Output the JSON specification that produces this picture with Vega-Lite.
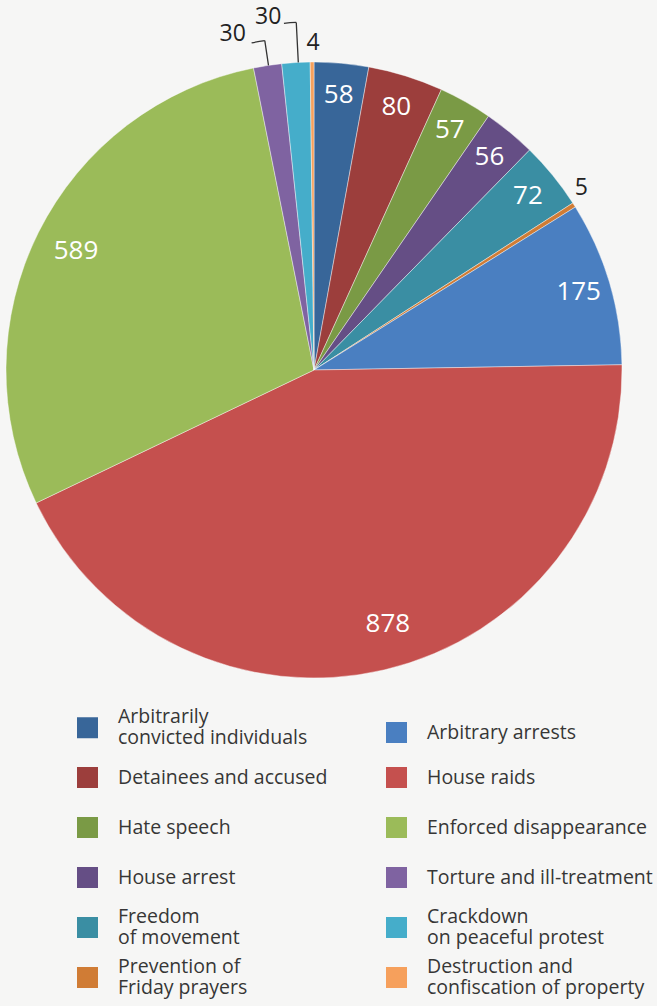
{
  "$schema": "https://vega.github.io/schema/vega-lite/v6.json",
  "width": 628,
  "height": 740,
  "padding": {"left": 0, "top": 0, "right": 29, "bottom": 266},
  "autosize": {"type": "none"},
  "background": "#f6f6f5",
  "config": {"view": {"stroke": null}, "font": "Open Sans"},
  "data": {
    "values": [
      {"category": "Arbitrarily\nconvicted individuals", "count": 58, "slice": 1},
      {"category": "Detainees and accused", "count": 80, "slice": 2},
      {"category": "Hate speech", "count": 57, "slice": 3},
      {"category": "House arrest", "count": 56, "slice": 4},
      {"category": "Freedom\nof movement", "count": 72, "slice": 5},
      {"category": "Prevention of\nFriday prayers", "count": 5, "slice": 6},
      {"category": "Arbitrary arrests", "count": 175, "slice": 7},
      {"category": "House raids", "count": 878, "slice": 8},
      {"category": "Enforced disappearance", "count": 589, "slice": 9},
      {"category": "Torture and ill-treatment", "count": 30, "slice": 10},
      {"category": "Crackdown\non peaceful protest", "count": 30, "slice": 11},
      {"category": " Destruction and\nconfiscation of property", "count": 4, "slice": 12}
    ]
  },
  "layer": [
    {
      "encoding": {
        "theta": {"field": "count", "type": "quantitative", "stack": true},
        "order": {"field": "slice", "type": "quantitative"}
      },
      "layer": [
        {
          "mark": {"type": "arc", "outerRadius": 308, "stroke": "#ffffff", "strokeWidth": 0.6, "strokeOpacity": 0.7},
          "encoding": {
            "color": {
              "field": "category",
              "type": "nominal",
              "scale": {
                "domain": [
                  "Arbitrarily\nconvicted individuals", "Arbitrary arrests",
                  "Detainees and accused", "House raids",
                  "Hate speech", "Enforced disappearance",
                  "House arrest", "Torture and ill-treatment",
                  "Freedom\nof movement", "Crackdown\non peaceful protest",
                  "Prevention of\nFriday prayers", " Destruction and\nconfiscation of property"
                ],
                "range": [
                  "#386699", "#4a7fc1",
                  "#9c3e3c", "#c5504e",
                  "#7a9a45", "#9bbb59",
                  "#654e85", "#7f63a1",
                  "#3a8ea3", "#45adca",
                  "#d07c35", "#f6a05c"
                ]
              },
              "legend": {
                "orient": "none",
                "legendX": 77,
                "legendY": 717,
                "columns": 2,
                "direction": "horizontal",
                "title": null,
                "padding": 0,
                "symbolType": "square",
                "symbolSize": 441,
                "symbolStrokeWidth": 0,
                "symbolOpacity": 1,
                "labelFontSize": 19.5,
                "labelColor": "#363636",
                "labelFont": "Open Sans",
                "labelLimit": 400,
                "labelOffset": 20,
                "labelExpr": "split(datum.label, '\\n')",
                "labelBaseline": {"expr": "indexof(datum.label, '\\n') >= 0 ? 'line-bottom' : 'middle'"},
                "gridAlign": "all",
                "columnPadding": 42,
                "rowPadding": 8
              }
            }
          }
        },
        {
          "mark": {"type": "text", "radius": 276, "fontSize": 26, "color": "#ffffff"},
          "encoding": {
            "detail": {"field": "category"},
            "text": {"field": "count", "type": "quantitative"},
            "opacity": {"condition": {"test": "datum.count >= 50 && datum.count < 500", "value": 1}, "value": 0}
          }
        },
        {
          "mark": {"type": "text", "radius": 266, "fontSize": 26, "color": "#ffffff"},
          "encoding": {
            "detail": {"field": "category"},
            "text": {"field": "count", "type": "quantitative"},
            "opacity": {"condition": {"test": "datum.slice == 9", "value": 1}, "value": 0}
          }
        },
        {
          "mark": {"type": "text", "radius": 265, "dx": 13, "dy": -4, "fontSize": 26, "color": "#ffffff"},
          "encoding": {
            "detail": {"field": "category"},
            "text": {"field": "count", "type": "quantitative"},
            "opacity": {"condition": {"test": "datum.slice == 8", "value": 1}, "value": 0}
          }
        },
        {
          "mark": {"type": "text", "radius": 325, "dx": -7, "dy": -8, "fontSize": 23, "color": "#222222"},
          "encoding": {
            "detail": {"field": "category"},
            "text": {"field": "count", "type": "quantitative"},
            "opacity": {"condition": {"test": "datum.slice == 6", "value": 1}, "value": 0}
          }
        },
        {
          "mark": {"type": "text", "radius": 327, "dx": 1, "fontSize": 23, "color": "#222222"},
          "encoding": {
            "detail": {"field": "category"},
            "text": {"field": "count", "type": "quantitative"},
            "opacity": {"condition": {"test": "datum.slice == 12", "value": 1}, "value": 0}
          }
        },
        {
          "mark": {"type": "text", "radius": 340, "dx": -30, "fontSize": 23, "color": "#222222"},
          "encoding": {
            "detail": {"field": "category"},
            "text": {"field": "count", "type": "quantitative"},
            "opacity": {"condition": {"test": "datum.slice == 10", "value": 1}, "value": 0}
          }
        },
        {
          "mark": {"type": "text", "radius": 354, "dx": -25, "fontSize": 23, "color": "#222222"},
          "encoding": {
            "detail": {"field": "category"},
            "text": {"field": "count", "type": "quantitative"},
            "opacity": {"condition": {"test": "datum.slice == 11", "value": 1}, "value": 0}
          }
        }
      ]
    },
    {
      "data": {"values": [{}]},
      "mark": {"type": "arc", "filled": false, "stroke": "#333333", "strokeWidth": 1.3},
      "encoding": {
        "theta": {"datum": 1986, "type": "quantitative"},
        "theta2": {"datum": 1986},
        "radius": {"value": 308},
        "radius2": {"value": 333}
      }
    },
    {
      "data": {"values": [{}]},
      "mark": {"type": "arc", "filled": false, "stroke": "#333333", "strokeWidth": 1.3},
      "encoding": {
        "theta": {"datum": 1973, "type": "quantitative"},
        "theta2": {"datum": 1986},
        "radius": {"value": 333},
        "radius2": {"value": 333}
      }
    },
    {
      "data": {"values": [{}]},
      "mark": {"type": "arc", "filled": false, "stroke": "#333333", "strokeWidth": 1.3},
      "encoding": {
        "theta": {"datum": 2017.5, "type": "quantitative"},
        "theta2": {"datum": 2017.5},
        "radius": {"value": 308},
        "radius2": {"value": 348}
      }
    },
    {
      "data": {"values": [{}]},
      "mark": {"type": "arc", "filled": false, "stroke": "#333333", "strokeWidth": 1.3},
      "encoding": {
        "theta": {"datum": 2006, "type": "quantitative"},
        "theta2": {"datum": 2017.5},
        "radius": {"value": 348},
        "radius2": {"value": 348}
      }
    }
  ]
}
